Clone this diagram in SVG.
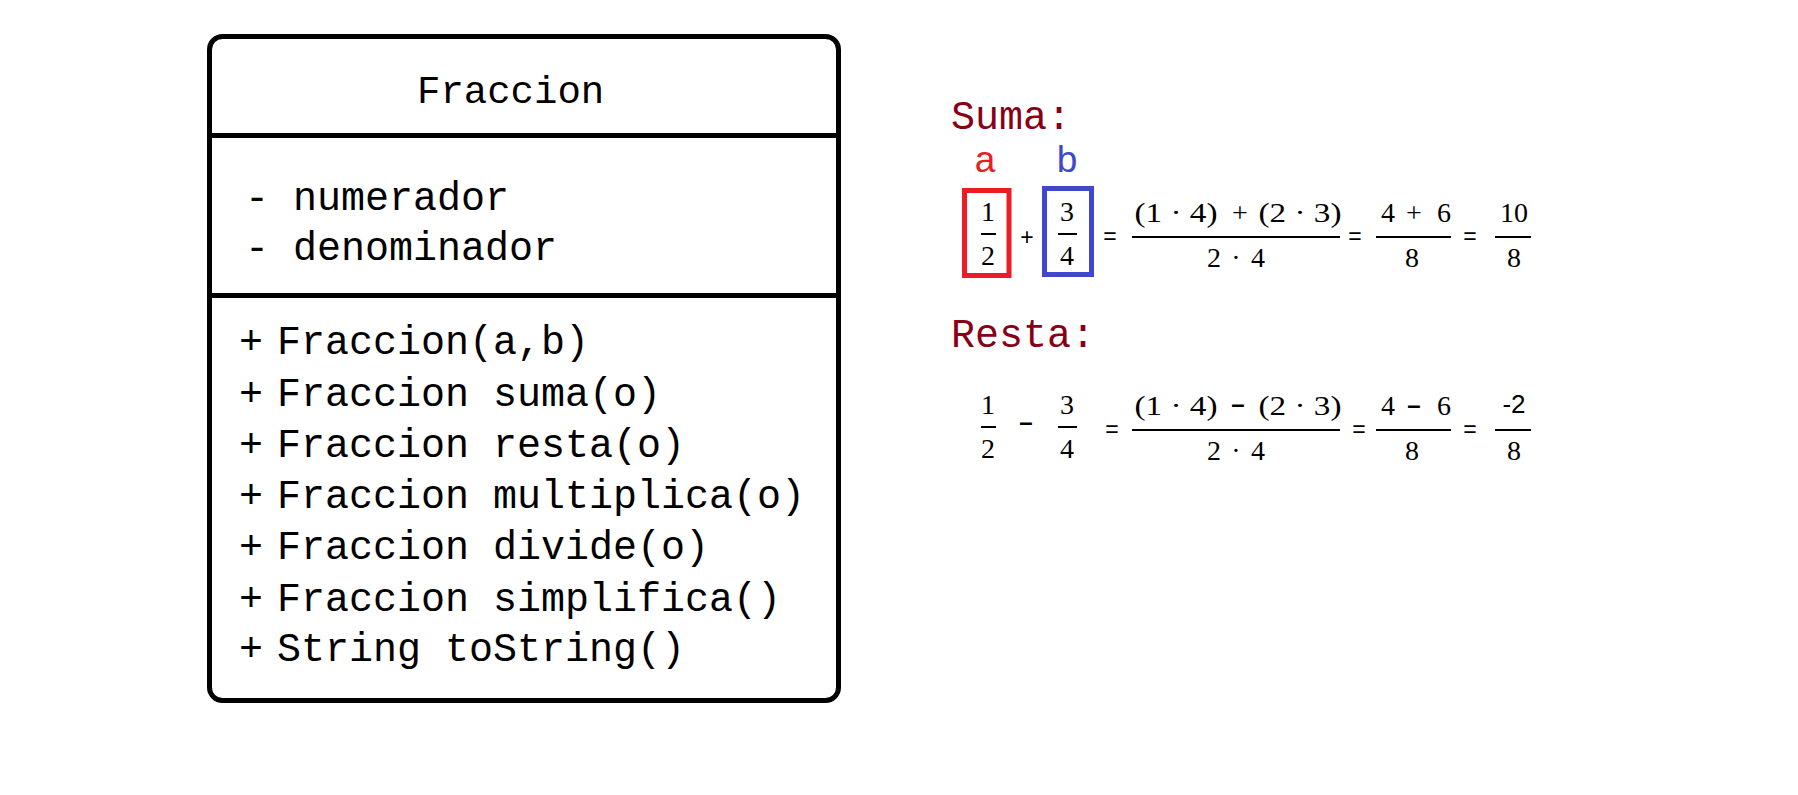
<svg xmlns="http://www.w3.org/2000/svg" width="1798" height="795" viewBox="0 0 1798 795">
<style>
.mono{font-family:"Liberation Mono","DejaVu Sans Mono",monospace;font-size:40px;fill:#000}
.head{font-size:39px}
.lbl{font-family:"Liberation Mono","DejaVu Sans Mono",monospace;font-size:40px;fill:#880015}
.m{font-family:"Liberation Serif","DejaVu Serif",serif;font-size:28px;fill:#000;text-anchor:middle}
.s{font-family:"Liberation Sans","Open Sans",sans-serif;font-size:23px;fill:#000;text-anchor:middle}
.dash{font-family:"Liberation Sans","Open Sans",sans-serif;font-size:24px;font-weight:bold;fill:#000;text-anchor:middle}
.bar{stroke:#000;stroke-width:2}
</style>
<rect width="1798" height="795" fill="#fff"/>
<g id="class-fraccion">
<rect x="209.5" y="36.5" width="629" height="664" rx="13" fill="#fff" stroke="#000" stroke-width="5"/>
<line x1="209.5" y1="135.5" x2="838.5" y2="135.5" stroke="#000" stroke-width="5"/>
<line x1="209.5" y1="295.5" x2="838.5" y2="295.5" stroke="#000" stroke-width="5"/>
<text class="mono head" x="417" y="103">Fraccion</text>
<text class="mono" x="245" y="210">- numerador</text>
<text class="mono" x="245" y="260">- denominador</text>
<text class="mono" y="354"><tspan x="239">+</tspan><tspan x="277">Fraccion(a,b)</tspan></text>
<text class="mono" y="406"><tspan x="239">+</tspan><tspan x="277">Fraccion suma(o)</tspan></text>
<text class="mono" y="457"><tspan x="239">+</tspan><tspan x="277">Fraccion resta(o)</tspan></text>
<text class="mono" y="508"><tspan x="239">+</tspan><tspan x="277">Fraccion multiplica(o)</tspan></text>
<text class="mono" y="559"><tspan x="239">+</tspan><tspan x="277">Fraccion divide(o)</tspan></text>
<text class="mono" y="611"><tspan x="239">+</tspan><tspan x="277">Fraccion simplifica()</tspan></text>
<text class="mono" y="661"><tspan x="239">+</tspan><tspan x="277">String toString()</tspan></text>
</g>
<g id="suma">
<text class="lbl" x="951" y="129">Suma:</text>
<text x="985" y="172" font-family="Liberation Sans,Open Sans,sans-serif" font-size="37" fill="#ed1c24" text-anchor="middle">a</text>
<text x="1067" y="172" font-family="Liberation Sans,Open Sans,sans-serif" font-size="37" fill="#3f48cc" text-anchor="middle">b</text>
<rect x="964.5" y="190.5" width="44.5" height="85" fill="none" stroke="#ed1c24" stroke-width="5"/>
<rect x="1044.5" y="188.5" width="47" height="86" fill="none" stroke="#3f48cc" stroke-width="5"/>
<text class="m" x="988" y="221">1</text>
<line class="bar" x1="981" y1="234" x2="996" y2="234"/>
<text class="m" x="988" y="265">2</text>
<text class="s" x="1027" y="245">+</text>
<text class="m" x="1067" y="221">3</text>
<line class="bar" x1="1058" y1="234" x2="1077" y2="234"/>
<text class="m" x="1067" y="265">4</text>
<text class="s" x="1110" y="244">=</text>
<text class="m" x="1176" y="222" textLength="83" lengthAdjust="spacingAndGlyphs">(1 · 4)</text>
<text class="m" x="1240" y="222">+</text>
<text class="m" x="1300" y="222" textLength="83" lengthAdjust="spacingAndGlyphs">(2 · 3)</text>
<line class="bar" x1="1132" y1="237" x2="1340" y2="237"/>
<text class="m" x="1236" y="267" textLength="58" lengthAdjust="spacing">2 · 4</text>
<text class="s" x="1355" y="244">=</text>
<text class="m" x="1388" y="222">4</text>
<text class="m" x="1414" y="222">+</text>
<text class="m" x="1444" y="222">6</text>
<line class="bar" x1="1376" y1="237" x2="1451" y2="237"/>
<text class="m" x="1412" y="267">8</text>
<text class="s" x="1470" y="244">=</text>
<text class="m" x="1514" y="222">10</text>
<line class="bar" x1="1495" y1="237" x2="1531" y2="237"/>
<text class="m" x="1514" y="267">8</text>
</g>
<g id="resta">
<text class="lbl" x="951" y="347">Resta:</text>
<text class="m" x="988" y="414">1</text>
<line class="bar" x1="981" y1="427" x2="996" y2="427"/>
<text class="m" x="988" y="458">2</text>
<text class="dash" x="1026" y="430">–</text>
<text class="m" x="1067" y="414">3</text>
<line class="bar" x1="1058" y1="427" x2="1077" y2="427"/>
<text class="m" x="1067" y="458">4</text>
<text class="s" x="1112" y="437">=</text>
<text class="m" x="1176" y="415" textLength="83" lengthAdjust="spacingAndGlyphs">(1 · 4)</text>
<text class="dash" x="1238" y="412">–</text>
<text class="m" x="1300" y="415" textLength="83" lengthAdjust="spacingAndGlyphs">(2 · 3)</text>
<line class="bar" x1="1132" y1="430" x2="1340" y2="430"/>
<text class="m" x="1236" y="460" textLength="58" lengthAdjust="spacing">2 · 4</text>
<text class="s" x="1359" y="437">=</text>
<text class="m" x="1388" y="415">4</text>
<text class="dash" x="1414" y="413">–</text>
<text class="m" x="1444" y="415">6</text>
<line class="bar" x1="1376" y1="430" x2="1451" y2="430"/>
<text class="m" x="1412" y="460">8</text>
<text class="s" x="1470" y="437">=</text>
<text x="1514" y="413" font-family="Liberation Sans,Open Sans,sans-serif" font-size="26" text-anchor="middle">-2</text>
<line class="bar" x1="1495" y1="430" x2="1531" y2="430"/>
<text class="m" x="1514" y="460">8</text>
</g>
</svg>
